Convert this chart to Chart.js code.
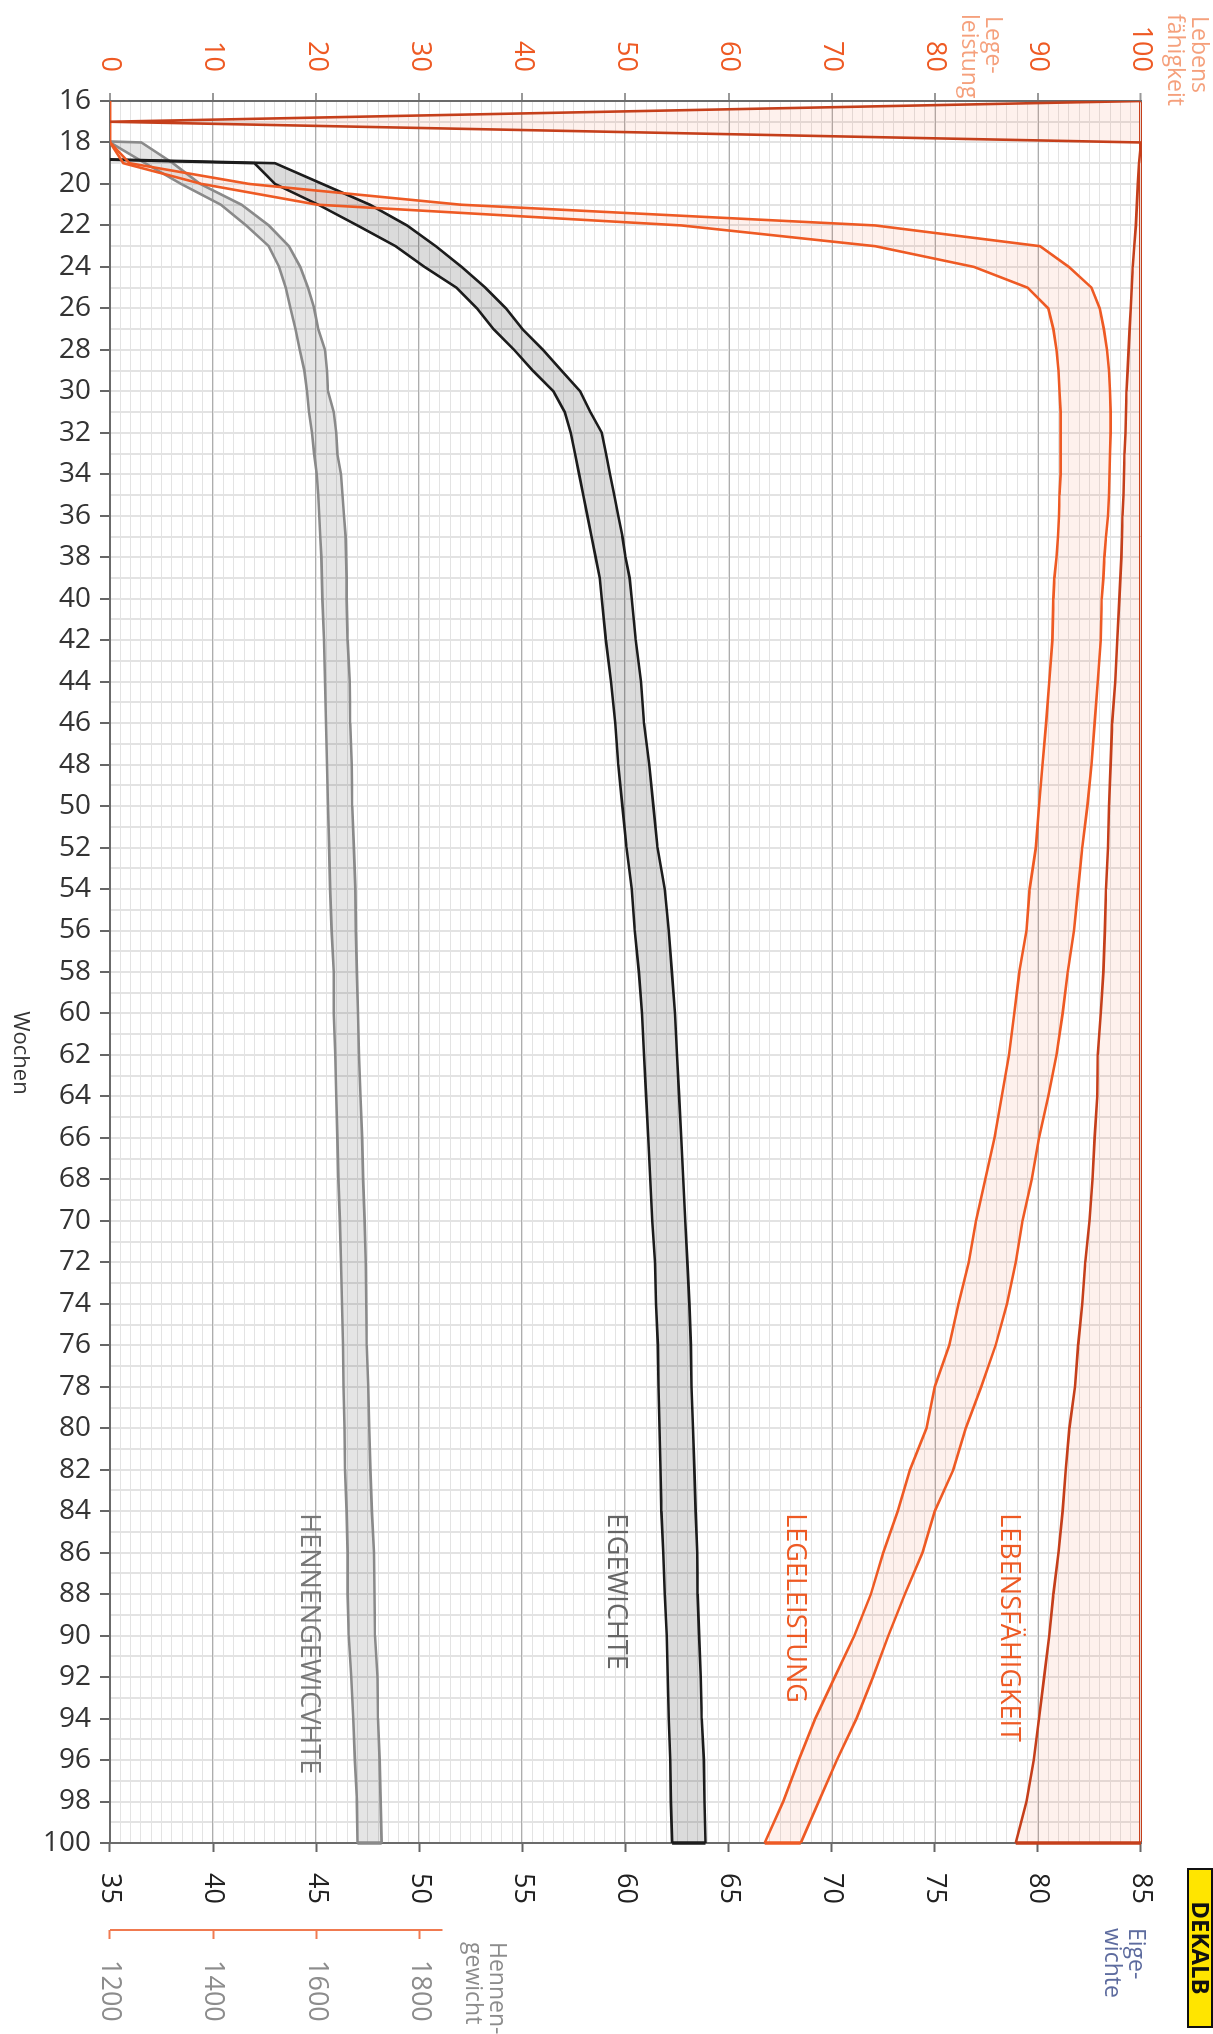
<!DOCTYPE html>
<html lang="de">
<head>
<meta charset="utf-8">
<title>Leistungskurven</title>
<script src="https://cdn.jsdelivr.net/npm/chart.js@4.4.1/dist/chart.umd.min.js"></script>
<style>
  html, body { margin: 0; padding: 0; background: #fff; overflow: hidden; }
  /* chart is drawn in landscape and turned a quarter clockwise */
  #wrap {
    position: absolute; left: 0; top: 0;
    width: 2034px; height: 1213px;
    transform-origin: 0 0;
    transform: translateX(1213px) rotate(90deg);
  }
</style>
</head>
<body>
<div id="wrap"><canvas id="chart" width="2034" height="1213"></canvas></div>
<script>
// Lebenswochen
const weeks = [16, 17, 18, 19, 20, 21, 22, 23, 24, 25, 26, 27, 28, 29, 30, 31, 32, 33, 34, 35, 36, 37, 38, 39, 40,
  42, 44, 46, 48, 50, 52, 54, 56, 58, 60, 62, 64, 66, 68, 70, 72, 74, 76, 78, 80, 82, 84, 86, 88, 90, 92, 94, 96, 98, 100];

// Lebensfähigkeit in %
const vitality = [100, 0, 100, 99.8, 99.7, 99.6, 99.5, 99.35, 99.2, 99.1, 99.0, 98.9, 98.8, 98.7, 98.6, 98.55, 98.5, 98.4, 98.35, 98.3, 98.2, 98.15, 98.1, 98.0, 97.9,
  97.7, 97.5, 97.2, 97.05, 96.9, 96.8, 96.6, 96.5, 96.35, 96.1, 95.8, 95.75, 95.5, 95.3, 95.0, 94.6, 94.3, 93.9, 93.6, 93.05, 92.7, 92.4, 92.0, 91.5, 91.1, 90.6, 90.1, 89.6, 88.9, 87.85];

// Legeleistung in % (obere / untere Grenze)
const layHigh = [0, 0, 0, 1.9, 13.5, 34, 74.2, 90.2, 93.0, 95.2, 96.0, 96.4, 96.7, 96.9, 97.0, 97.05, 97.05, 97.0, 96.95, 96.9, 96.8, 96.6, 96.45, 96.35, 96.2,
  96.1, 95.8, 95.5, 95.2, 94.8, 94.3, 93.9, 93.5, 92.9, 92.4, 91.8, 91.0, 90.1, 89.4, 88.5, 87.85, 87.0, 85.9, 84.5, 83.0, 81.8, 80.0, 78.8, 77.1, 75.5, 74.0, 72.4, 70.5, 68.75, 67.0];
const layLow = [0, 0, 0, 1.3, 8.9, 20.1, 55.4, 74.2, 83.8, 89.0, 91.0, 91.5, 91.8, 92.0, 92.1, 92.2, 92.2, 92.2, 92.2, 92.1, 92.05, 91.95, 91.8, 91.6, 91.5,
  91.4, 91.1, 90.8, 90.45, 90.1, 89.8, 89.2, 88.9, 88.2, 87.7, 87.2, 86.5, 85.8, 84.9, 84.0, 83.3, 82.3, 81.4, 80.0, 79.2, 77.6, 76.4, 75.0, 73.8, 72.2, 70.3, 68.4, 66.8, 65.3, 63.5];

// Eigewicht in g
const eggHigh = [0, 0, 0, 43.0, 45.3, 47.6, 49.4, 50.8, 52.05, 53.2, 54.2, 55.0, 56.0, 56.9, 57.8, 58.3, 58.85, 59.05, 59.25, 59.45, 59.65, 59.85, 60.0, 60.2, 60.3,
  60.5, 60.75, 60.9, 61.15, 61.35, 61.55, 61.9, 62.1, 62.25, 62.4, 62.5, 62.6, 62.7, 62.8, 62.9, 63.0, 63.1, 63.17, 63.2, 63.27, 63.34, 63.4, 63.48, 63.5, 63.57, 63.65, 63.7, 63.8, 63.83, 63.88];
const eggLow = [0, 0, 0, 42.0, 43.0, 45.1, 47.0, 48.85, 50.25, 51.8, 52.8, 53.6, 54.6, 55.5, 56.5, 57.05, 57.35, 57.55, 57.75, 57.95, 58.15, 58.35, 58.55, 58.75, 58.85,
  59.05, 59.3, 59.5, 59.65, 59.85, 60.05, 60.3, 60.45, 60.65, 60.8, 60.9, 61.0, 61.1, 61.2, 61.3, 61.43, 61.48, 61.57, 61.6, 61.65, 61.7, 61.74, 61.83, 61.9, 62.0, 62.05, 62.1, 62.17, 62.2, 62.26];

// Hennengewicht in g
const henHigh = [0, 0, 1261, 1322, 1375, 1455, 1508, 1547, 1569, 1584, 1596, 1604, 1617, 1621, 1623, 1634, 1639, 1641, 1648, 1651, 1654, 1657, 1658, 1659, 1659,
  1661, 1665, 1666, 1669, 1670, 1673, 1676, 1677, 1679, 1681, 1683, 1686, 1689, 1691, 1694, 1696, 1697, 1698, 1701, 1703, 1705, 1708, 1712, 1713, 1714, 1719, 1720, 1723, 1725, 1727];
const henLow = [0, 0, 1200, 1268, 1338, 1415, 1464, 1508, 1528, 1541, 1550, 1560, 1568, 1577, 1582, 1586, 1592, 1596, 1601, 1604, 1606, 1608, 1610, 1611, 1612,
  1615, 1617, 1619, 1621, 1623, 1625, 1627, 1630, 1634, 1634, 1637, 1639, 1641, 1643, 1646, 1648, 1650, 1652, 1653, 1655, 1656, 1659, 1661, 1661, 1663, 1668, 1672, 1675, 1679, 1680];

const henTicks = [1200, 1400, 1600, 1800];

const ORANGE = '#ee5a24';
const DARKRED = '#c53f1b';
const PINK = 'rgba(240, 95, 50, 0.09)';
const MAJOR = '#adadad';
const MINOR = '#e3e3e3';
const FONT = "'Open Sans', 'Noto Sans', sans-serif";

const pts = arr => weeks.map((w, i) => ({ x: w, y: arr[i] }));
const last = weeks[weeks.length - 1];
const edge = (a, b) => [{ x: last, y: a[a.length - 1] }, { x: last, y: b }];

const decor = {
  id: 'decor',
  afterDraw(chart) {
    const { ctx, scales } = chart;
    const x = scales.x, y = scales.y, hen = scales.yHen;
    ctx.save();

    // Hennengewicht axis only runs over the printed part
    ctx.strokeStyle = '#f07a50';
    ctx.lineWidth = 2;
    ctx.beginPath();
    ctx.moveTo(hen.left, hen.getPixelForValue(1200));
    ctx.lineTo(hen.left, hen.getPixelForValue(1845));
    ctx.stroke();

    ctx.textBaseline = 'middle';
    ctx.textAlign = 'left';

    // curve names inside the plot
    ctx.font = '27px ' + FONT;
    const names = [
      ['HENNENGEWICVHTE', 19.3, '#777'],
      ['EIGEWICHTE', 49.0, '#666'],
      ['LEGELEISTUNG', 66.4, ORANGE],
      ['LEBENSFÄHIGKEIT', 87.2, ORANGE]
    ];
    names.forEach(([t, v, c]) => {
      ctx.fillStyle = c;
      ctx.fillText(t, x.getPixelForValue(84.1), y.getPixelForValue(v));
    });

    // axis captions
    ctx.font = '23px ' + FONT;
    ctx.fillStyle = '#f5a07c';
    ctx.fillText('Lebens', 16, 14);
    ctx.fillText('fähigkeit', 14, 38);
    ctx.fillText('Lege-', 16, 220);
    ctx.fillText('leistung', 14, 244);
    ctx.fillStyle = '#5d6b9e';
    ctx.fillText('Eige-', 1928, 77);
    ctx.fillText('wichte', 1928, 101);
    ctx.fillStyle = '#8c8c8c';
    ctx.fillText('Hennen-', 1942, 716);
    ctx.fillText('gewicht', 1942, 740);

    ctx.font = '22px ' + FONT;
    ctx.fillStyle = '#333';
    ctx.textAlign = 'center';
    ctx.fillText('Wochen', 1053, 1193);

    // logo
    ctx.fillStyle = '#ffe500';
    ctx.fillRect(1868, 0, 160, 26);
    ctx.strokeStyle = '#111';
    ctx.lineWidth = 2;
    ctx.strokeRect(1869, 1, 158, 24);
    ctx.fillStyle = '#111';
    ctx.font = 'bold 24px ' + FONT;
    ctx.fillText('DEKALB', 1948, 14);

    ctx.restore();
  }
};

const lineStyle = (color, width) => ({ borderColor: color, borderWidth: width, pointRadius: 0, tension: 0 });

new Chart(document.getElementById('chart'), {
  type: 'line',
  data: {
    datasets: [
      { label: 'Lebensfähigkeit', data: pts(vitality), yAxisID: 'y', ...lineStyle(DARKRED, 2.6), backgroundColor: PINK, fill: 'end' },
      { label: 'Legeleistung max', data: pts(layHigh), yAxisID: 'y', ...lineStyle(ORANGE, 2.6), backgroundColor: PINK, fill: '+1' },
      { label: 'Legeleistung min', data: pts(layLow), yAxisID: 'y', ...lineStyle(ORANGE, 2.6), fill: false },
      { label: 'Eigewicht max', data: pts(eggHigh), yAxisID: 'yEgg', ...lineStyle('#1c1c1c', 2.6), backgroundColor: 'rgba(0,0,0,0.14)', fill: '+1' },
      { label: 'Eigewicht min', data: pts(eggLow), yAxisID: 'yEgg', ...lineStyle('#1c1c1c', 2.6), fill: false },
      { label: 'Hennengewicht max', data: pts(henHigh), yAxisID: 'yHen', ...lineStyle('#8a8a8a', 2.6), backgroundColor: 'rgba(0,0,0,0.10)', fill: '+1' },
      { label: 'Hennengewicht min', data: pts(henLow), yAxisID: 'yHen', ...lineStyle('#8a8a8a', 2.6), fill: false },
      // band ends at the last week
      { data: edge(vitality, 100), yAxisID: 'y', ...lineStyle(DARKRED, 3.5), fill: false, clip: false },
      { data: edge(layLow, layHigh[layHigh.length - 1]), yAxisID: 'y', ...lineStyle(ORANGE, 3.5), fill: false, clip: false },
      { data: edge(eggLow, eggHigh[eggHigh.length - 1]), yAxisID: 'yEgg', ...lineStyle('#1c1c1c', 3.5), fill: false, clip: false },
      { data: edge(henLow, henHigh[henHigh.length - 1]), yAxisID: 'yHen', ...lineStyle('#8a8a8a', 3.5), fill: false, clip: false }
    ]
  },
  options: {
    responsive: false,
    animation: false,
    events: [],
    layout: { padding: { top: 72, left: 0, right: 0, bottom: 0 } },
    plugins: {
      legend: { display: false },
      tooltip: { enabled: false },
      filler: { drawTime: 'beforeDatasetsDraw' }
    },
    scales: {
      x: {
        type: 'linear', position: 'bottom', min: 16, max: 100,
        ticks: { stepSize: 2, minRotation: 90, maxRotation: 90, autoSkip: false, padding: 9, color: '#333', font: { family: FONT, size: 28 } },
        grid: { color: MAJOR, lineWidth: 2, tickLength: 10, tickColor: '#666', tickWidth: 2 },
        border: { color: '#6b6b6b', width: 2 },
        afterFit: s => { s.height = 110; }
      },
      xMinor: {
        type: 'linear', position: 'bottom', min: 16, max: 100, z: -1,
        ticks: { stepSize: 1, display: false, autoSkip: false },
        grid: { color: MINOR, lineWidth: 2, drawTicks: false },
        border: { display: false },
        afterFit: s => { s.height = 0; }
      },
      y: {
        type: 'linear', position: 'left', min: 0, max: 100,
        ticks: { stepSize: 10, padding: 21, color: ORANGE, font: { family: FONT, size: 27 } },
        grid: {
          color: c => c.tick.value === 100 ? DARKRED : MAJOR,
          lineWidth: c => c.tick.value === 100 ? 3 : 2,
          tickLength: 8, tickColor: '#999', tickWidth: 2
        },
        border: { color: '#6b6b6b', width: 2 },
        afterFit: s => { s.width = 101; }
      },
      yMinor: {
        type: 'linear', position: 'left', min: 0, max: 100, z: -1,
        ticks: { stepSize: 1, display: false },
        grid: { color: MINOR, lineWidth: 1, drawTicks: false },
        border: { display: false },
        afterFit: s => { s.width = 0; }
      },
      yEgg: {
        type: 'linear', position: 'right', min: 35, max: 85,
        ticks: { stepSize: 5, padding: 21, color: '#222', font: { family: FONT, size: 27 } },
        grid: { drawOnChartArea: false, tickLength: 9, tickColor: '#666', tickWidth: 2 },
        border: { color: '#6b6b6b', width: 2 },
        afterFit: s => { s.width = 87; }
      },
      yHen: {
        type: 'linear', position: 'right', min: 1200, max: 3200,
        ticks: {
          stepSize: 200, padding: 21, color: '#8c8c8c', font: { family: FONT, size: 27 },
          callback: v => henTicks.includes(v) ? v : ''
        },
        grid: {
          drawOnChartArea: false, tickLength: 9, tickWidth: 2,
          tickColor: c => henTicks.includes(c.tick.value) ? '#f07a50' : 'rgba(0,0,0,0)'
        },
        border: { display: false },
        afterFit: s => { s.width = 104; }
      }
    }
  },
  plugins: [decor]
});
</script>
</body>
</html>
